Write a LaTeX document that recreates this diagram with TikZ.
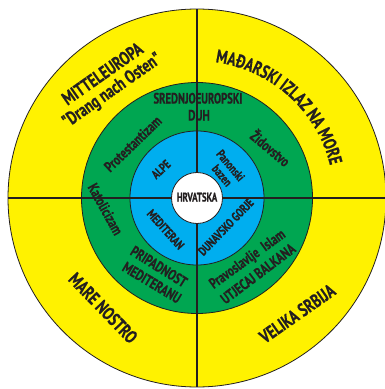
\documentclass[tikz,border=0pt]{standalone}
\usepackage{fontspec}
\newfontfamily\cf{PT Sans}[UprightFont={* Bold}, BoldFont={* Bold}, FakeStretch=0.75, FakeBold=0.5]
\newfontfamily\cfn{PT Sans}[UprightFont={* Bold}, BoldFont={* Bold}, FakeStretch=0.71, FakeBold=0.5]
\usetikzlibrary{decorations.text}
\definecolor{ringY}{HTML}{FFF200}
\definecolor{ringG}{HTML}{00A651}
\definecolor{ringB}{HTML}{00AEEF}
\definecolor{ink}{HTML}{231F20}
\begin{document}
\begin{tikzpicture}[x=1pt,y=1pt,
  disc/.style={circle, draw=ink, line width=0.8pt, inner sep=0pt, outer sep=0pt},
  lab/.style={text=ink, inner sep=0pt, text height=0.7em, text depth=0pt, anchor=center},
  outerlab/.style={lab, font=\cf\fontsize{18.5}{20}\selectfont},
  greenlab/.style={lab, font=\cf\fontsize{15}{17}\selectfont},
  bluelab/.style={lab, font=\cf\fontsize{12.5}{14}\selectfont},
  crossline/.style={draw=ink, line width=2pt}]
\useasboundingbox (-197,-191) rectangle (188,198);
\fill[white] (-197,-191) rectangle (188,198);
% rings
\node[disc, fill=ringY, minimum size=378pt] (outer) at (0,0) {};
\node[disc, fill=ringG, minimum size=231pt] (green) at (0,0) {};
\node[disc, fill=ringB, minimum size=134pt] (blue) at (0,0) {};
% cross
\draw[crossline] (outer.north) -- (outer.south);
\draw[crossline] (outer.west) -- (outer.east);
\node[disc, fill=white, minimum size=51pt] (core) at (0,0) {};
\node[lab, font=\cfn\fontsize{12.5}{14}\selectfont] (hr) at (core.center) {HRVATSKA};
% outer ring labels
\node[outerlab, rotate=35] (mit) at (-93,122) {MITTELEUROPA};
\node[outerlab, rotate=35] (drang) at (-84,106) {"Drang nach Osten"};
\path[decorate, decoration={text along path, text align=center, text color=ink,
  text={|\cf\fontsize{18.5}{20}\selectfont|MAĐARSKI IZLAZ NA MORE}}]
  (98:137) arc[start angle=98, end angle=-2, radius=137];
\node[outerlab, rotate=-46] (mare) at (-96,-112) {MARE NOSTRO};
\node[outerlab, rotate=35] (velika) at (102,-118) {VELIKA SRBIJA};
% green ring labels
\node[greenlab, font=\cfn\fontsize{15}{17}\selectfont] (sred) at (1,98) {SREDNJOEUROPSKI};
\node[greenlab] (duh) at (2,81) {DUH};
\node[greenlab, rotate=44] (prot) at (-63,53) {Protestantizam};
\node[greenlab, rotate=-40] (zid) at (72,48) {Židovstvo};
\node[greenlab, rotate=-61] (kat) at (-93,-12) {Katolicizam};
\node[greenlab, rotate=-32] (prip) at (-39,-70) {PRIPADNOST};
\node[greenlab, rotate=-31] (medu) at (-46,-86) {MEDITERANU};
\node[greenlab, rotate=36] (prav) at (51,-62) {Pravoslavlje\ \ Islam};
\node[greenlab, rotate=37] (utj) at (62,-77) {UTJECAJ BALKANA};
% blue ring labels
\node[bluelab, rotate=43] (alpe) at (-35.5,28) {ALPE};
\node[bluelab, rotate=-50] (pan) at (33,32) {Panonski};
\node[bluelab, rotate=-50] (baz) at (24.5,22) {bazen};
\node[bluelab, rotate=-48] (medi) at (-32,-32) {MEDITERAN};
\node[bluelab, rotate=46] (dun) at (29.5,-29.5) {DUNAVSKO GORJE};
\end{tikzpicture}
\end{document}
